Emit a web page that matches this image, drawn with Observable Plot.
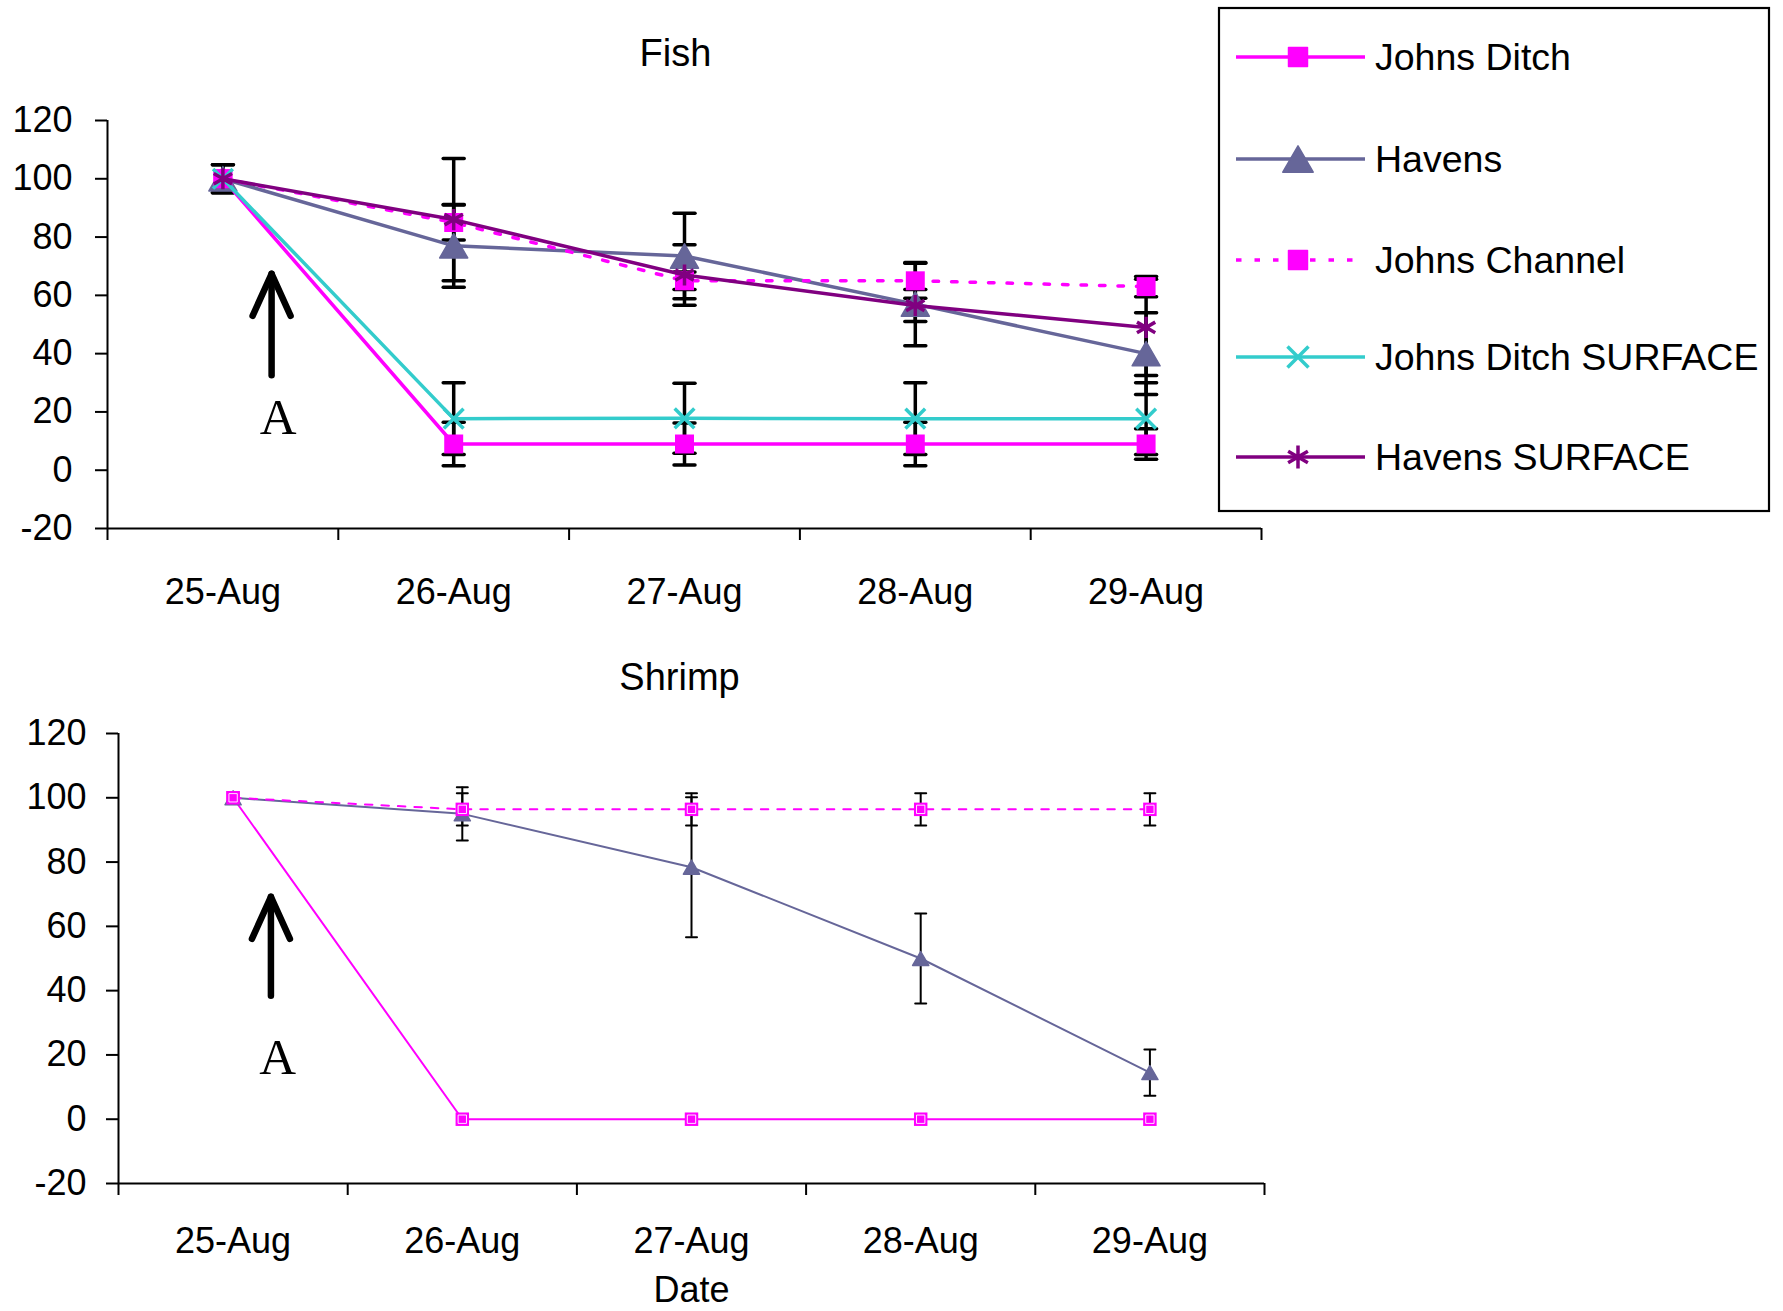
<!DOCTYPE html>
<html><head><meta charset="utf-8">
<script src="https://cdn.jsdelivr.net/npm/d3@7"></script>
<script src="https://cdn.jsdelivr.net/npm/@observablehq/plot@0.6"></script>
<style>
body{margin:0;background:#fff;}
#root{position:relative;width:1783px;height:1311px;overflow:hidden;font-family:'Liberation Sans',Arial,sans-serif;}
#root svg{position:absolute;}
</style></head><body><div id="root"></div>
<script>
// ---------- DATA ----------
const dates = ["25-Aug", "26-Aug", "27-Aug", "28-Aug", "29-Aug"];
const seriesNames = ["Johns Ditch", "Havens", "Johns Channel", "Johns Ditch SURFACE", "Havens SURFACE"];
const yTicks = [-20, 0, 20, 40, 60, 80, 100, 120];

// Fish
const fishJohnsDitch = [100, 9, 9, 9, 9];
const fishJohnsDitchErr = [0, 7.5, 7.2, 7.5, 5.2];
const fishHavens = [100, 77, 73.5, 57, 40];
const fishHavensErr = [4.8, 14.2, 14.7, 14.3, 14];
const fishJohnsChannel = [100, 85, 65, 65, 63];
const fishJohnsChannelErr = [0, 6, 3, 6, 3.5];
const fishJohnsDitchSurface = [100, 17.7, 17.8, 17.7, 17.7];
const fishJohnsDitchSurfaceErr = [0, 12.3, 12, 12.3, 12.3];
const fishHavensSurface = [100, 86, 67, 56.5, 49];
const fishHavensSurfaceErr = [4.8, 21, 10.4, 5.5, 16.5];

// Shrimp
const shrimpJohnsDitch = [100, 0, 0, 0, 0];
const shrimpJohnsDitchErr = [0, 0, 0, 0, 0];
const shrimpHavens = [100, 95, 78.4, 50, 14.5];
const shrimpHavensErr = [0, 8.3, 21.8, 14, 7.2];
const shrimpJohnsChannel = [100, 96.4, 96.4, 96.4, 96.4];
const shrimpJohnsChannelErr = [0, 5, 5, 5, 5];

// Annotations (arrow + "A"), in data units
const fishArrow = {x: 0.711, y1: 32.6, y2: 67.4};
const fishLetter = {x: 0.739, y: 18.0, text: "A"};
const shrimpArrow = {x: 0.665, y1: 38.4, y2: 69.2};
const shrimpLetter = {x: 0.695, y: 19.3, text: "A"};

// ---------- STYLES ----------
const styles = {
  "Johns Ditch": {color: "#FF00FF", symbol: "square"},
  "Havens": {color: "#666699", symbol: "triangle"},
  "Johns Channel": {color: "#FF00FF", symbol: "square", dashed: true},
  "Johns Ditch SURFACE": {color: "#33CCCC", symbol: "times"},
  "Havens SURFACE": {color: "#800080", symbol: "asterisk"}
};

function rowsFor(name, vals, errs) {
  return vals.map((v, i) => ({series: name, x: i + 0.5, y: v, err: errs[i], date: dates[i]}));
}

const fishSeries = [
  rowsFor("Johns Ditch", fishJohnsDitch, fishJohnsDitchErr),
  rowsFor("Havens", fishHavens, fishHavensErr),
  rowsFor("Johns Channel", fishJohnsChannel, fishJohnsChannelErr),
  rowsFor("Johns Ditch SURFACE", fishJohnsDitchSurface, fishJohnsDitchSurfaceErr),
  rowsFor("Havens SURFACE", fishHavensSurface, fishHavensSurfaceErr)
];
const shrimpSeries = [
  rowsFor("Johns Ditch", shrimpJohnsDitch, shrimpJohnsDitchErr),
  rowsFor("Havens", shrimpHavens, shrimpHavensErr),
  rowsFor("Johns Channel", shrimpJohnsChannel, shrimpJohnsChannelErr)
];

// custom symbols
const capSymbol = (w) => ({draw(ctx) { ctx.moveTo(-w / 2, 0); ctx.lineTo(w / 2, 0); }});
const chevron = (hw, h) => ({draw(ctx) { ctx.moveTo(-hw, h); ctx.lineTo(0, 0); ctx.lineTo(hw, h); }});

function chart(series, cfg) {
  const marks = [];
  const all = series.flat();
  const withErr = all.filter(d => d.err > 0);
  const caps = withErr.flatMap(d => [{x: d.x, y: d.y + d.err}, {x: d.x, y: d.y - d.err}]);

  // axes
  marks.push(Plot.ruleX([0], {stroke: "black", strokeWidth: 2}));
  marks.push(Plot.ruleY([-20], {stroke: "black", strokeWidth: 2}));
  marks.push(Plot.axisY({ticks: yTicks, tickSize: 12, tickPadding: cfg.yPad, fontSize: cfg.tickFont,
    strokeWidth: 2, label: null, tickFormat: d => String(d)}));
  marks.push(Plot.axisX({ticks: d3.range(0, dates.length + 1), tickSize: 12, strokeWidth: 2,
    tickFormat: () => "", label: null}));
  marks.push(Plot.axisX({ticks: dates.map((d, i) => i + 0.5), tickSize: 0, tickPadding: cfg.xPad,
    fontSize: cfg.tickFont, tickFormat: d => dates[Math.floor(d)], label: null}));

  // error bars
  marks.push(Plot.ruleX(withErr, {x: "x", y1: d => d.y - d.err, y2: d => d.y + d.err,
    stroke: "black", strokeWidth: cfg.errW}));
  marks.push(Plot.dot(caps, {x: "x", y: "y", symbol: capSymbol(cfg.capW), r: 4, fill: "none",
    stroke: "black", strokeWidth: cfg.errW, strokeLinecap: "round"}));

  // series
  for (const rows of series) {
    const s = styles[rows[0].series];
    marks.push(Plot.line(rows, {x: "x", y: "y", stroke: s.color, strokeWidth: cfg.lineW,
      strokeDasharray: s.dashed ? cfg.dash : null, strokeLinejoin: "round"}));
    if (s.symbol === "square") {
      marks.push(Plot.dot(rows, {x: "x", y: "y", symbol: "square", r: cfg.sqR, fill: s.color}));
      if (cfg.hollowInner) marks.push(Plot.dot(rows, {x: "x", y: "y", symbol: "square", r: cfg.sqR * 0.62,
        fill: "none", stroke: "white", strokeWidth: 0.9}));
    } else if (s.symbol === "triangle") {
      marks.push(Plot.dot(rows, {x: "x", y: "y", symbol: "triangle", r: cfg.triR, fill: s.color,
        stroke: s.color, strokeWidth: 1.5, strokeLinejoin: "round", dy: 0.389 * cfg.triR}));
    } else if (s.symbol === "times") {
      marks.push(Plot.dot(rows, {x: "x", y: "y", symbol: "times", r: cfg.xR, fill: "none",
        stroke: s.color, strokeWidth: cfg.lineW}));
    } else {
      marks.push(Plot.dot(rows, {x: "x", y: "y", symbol: "asterisk", r: cfg.astR, fill: "none",
        stroke: s.color, strokeWidth: cfg.lineW}));
    }
  }

  // annotations
  const ar = cfg.arrow;
  marks.push(Plot.link([ar], {x1: "x", x2: "x", y1: "y1", y2: "y2", stroke: "black", strokeWidth: 6.5,
    strokeLinecap: "round"}));
  marks.push(Plot.dot([ar], {x: "x", y: "y2", symbol: chevron(19, 42), r: 5, fill: "none", stroke: "black",
    strokeWidth: 6.5, strokeLinecap: "round", strokeLinejoin: "round"}));
  marks.push(Plot.text([cfg.letter], {x: "x", y: "y", text: "text", fontFamily: "'Liberation Serif','Times New Roman',serif",
    fontSize: 51, lineAnchor: "middle", fill: "black"}));

  // title
  marks.push(Plot.text([cfg.title], {frameAnchor: "top", lineAnchor: "top", dy: cfg.titleDy, dx: cfg.titleDx,
    fontSize: 38, fill: "black"}));
  if (cfg.xLabel) marks.push(Plot.text([cfg.xLabel], {frameAnchor: "bottom", lineAnchor: "top", dy: cfg.xLabelDy,
    fontSize: 36, fill: "black"}));

  const svg = Plot.plot({
    width: cfg.width, height: cfg.height,
    marginLeft: cfg.ml, marginRight: cfg.mr, marginTop: cfg.mt, marginBottom: cfg.mb,
    x: {type: "linear", domain: [0, dates.length]},
    y: {type: "linear", domain: [-20, 120]},
    style: {background: "transparent", overflow: "visible", fontFamily: "'Liberation Sans',Arial,sans-serif", color: "black"},
    marks
  });
  svg.style.left = "0px";
  svg.style.top = cfg.top + "px";
  svg.style.maxWidth = "none";
  return svg;
}

const root = document.getElementById("root");

root.appendChild(chart(fishSeries, {
  top: 0, width: 1300, height: 640, ml: 107, mr: 39, mt: 120, mb: 112,
  yPad: 23, xPad: 50, tickFont: 36, lineW: 3.5, errW: 3.5, capW: 21,
  dash: "5.5,13", sqR: 10.7, triR: 10.4, xR: 9, astR: 10, hollowInner: false,
  arrow: fishArrow, letter: fishLetter, title: "Fish", titleDy: -81, titleDx: -9
}));

root.appendChild(chart(shrimpSeries, {
  top: 600, width: 1300, height: 711, ml: 118, mr: 36, mt: 133, mb: 128,
  yPad: 20, xPad: 44, tickFont: 36, lineW: 2, errW: 2, capW: 11,
  dash: "7.5,9", sqR: 7.6, triR: 6, xR: 6, astR: 6, hollowInner: true,
  arrow: shrimpArrow, letter: shrimpLetter, title: "Shrimp", titleDy: -70, titleDx: -12,
  xLabel: "Date", xLabelDy: 93
}));

// ---------- LEGEND ----------
const leg = d3.select(root).append("svg").attr("width", 1783).attr("height", 520)
  .style("left", "0px").style("top", "0px");
leg.append("rect").attr("x", 1219).attr("y", 8).attr("width", 550).attr("height", 503)
  .attr("fill", "white").attr("stroke", "black").attr("stroke-width", 2.2);
const legY = [57, 159, 260, 357, 457];
const symType = {square: d3.symbolSquare, triangle: d3.symbolTriangle, times: d3.symbolTimes, asterisk: d3.symbolAsterisk};
const symR = {square: 10.7, triangle: 11.3, times: 9.6, asterisk: 10.8};
seriesNames.forEach((name, i) => {
  const s = styles[name];
  const g = leg.append("g").attr("transform", `translate(0,${legY[i]})`);
  g.append("line").attr("x1", 1236).attr("x2", 1365).attr("y1", 0).attr("y2", 0)
    .attr("stroke", s.color).attr("stroke-width", 3.5)
    .attr("stroke-dasharray", s.dashed ? "5.5,13" : null);
  const r = symR[s.symbol];
  const path = d3.symbol(symType[s.symbol], Math.PI * r * r)();
  const filled = s.symbol === "square" || s.symbol === "triangle";
  g.append("path").attr("d", path)
    .attr("transform", `translate(1298,${s.symbol === "triangle" ? 0.389 * r : 0})`)
    .attr("fill", filled ? s.color : "none")
    .attr("stroke", s.color).attr("stroke-width", filled ? 1.5 : 3.5).attr("stroke-linejoin", "round");
  g.append("text").attr("x", 1375).attr("y", 0).attr("dy", "0.35em")
    .attr("font-size", 37.5).attr("fill", "black").attr("font-family", "'Liberation Sans',Arial,sans-serif")
    .text(name);
});
</script></body></html>
